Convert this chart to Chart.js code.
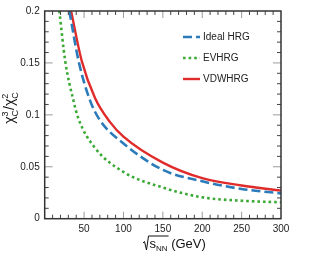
<!DOCTYPE html>
<html>
<head>
<meta charset="utf-8">
<script src="https://cdn.jsdelivr.net/npm/chart.js@4.4.0/dist/chart.umd.min.js"></script>
<style>
  html, body { margin: 0; padding: 0; background: #fff; }
  #wrap { width: 319px; height: 257px; }
</style>
</head>
<body>
<div id="wrap"><canvas id="grafico" width="319" height="257"></canvas></div>
<script>
// valores
const idealX = [31.3, 43, 57, 70, 100, 150, 200, 250, 300];
const idealY = [0.2, 0.152, 0.115, 0.095, 0.0725, 0.047, 0.036, 0.0286, 0.0244];
const evX = [18.6, 26, 36.4, 43, 63, 100, 150, 200, 250, 300];
const evY = [0.2, 0.152, 0.114, 0.096, 0.069, 0.045, 0.030, 0.0206, 0.0173, 0.0158];
const vdwX = [33.5, 47, 64, 83, 100, 150, 200, 250, 300];
const vdwY = [0.2, 0.152, 0.116, 0.093, 0.079, 0.054, 0.039, 0.032, 0.027];

const xTicks = [50, 100, 150, 200, 250, 300];
const yTicks = [0, 0.05, 0.1, 0.15, 0.2];
const nomes = ['Ideal HRG', 'EVHRG', 'VDWHRG'];

const FONTE = '"Liberation Sans", Arial, sans-serif';

function pontos(xs, ys) {
  return xs.map((v, i) => ({ x: v, y: ys[i] }));
}

// moldura, marcas internas, legenda e titulos dos eixos
const molduraPlugin = {
  id: 'moldura',
  afterDraw(chart) {
    const ctx = chart.ctx;
    const a = chart.chartArea;
    const sx = chart.scales.x;
    const sy = chart.scales.y;
    ctx.save();

    // marcas do eixo x (embaixo e em cima)
    for (let v = 10; v < 300; v += 10) {
      const px = sx.getPixelForValue(v);
      const maior = v % 50 === 0;
      const len = maior ? 7 : 4;
      ctx.strokeStyle = maior ? '#9a9a9a' : '#444';
      ctx.lineWidth = 1;
      ctx.beginPath();
      ctx.moveTo(px, a.bottom); ctx.lineTo(px, a.bottom - len);
      ctx.moveTo(px, a.top); ctx.lineTo(px, a.top + len);
      ctx.stroke();
    }
    // marcas do eixo y (esquerda e direita)
    for (let i = 1; i < 20; i++) {
      const v = i / 100;
      const py = sy.getPixelForValue(v);
      const maior = i % 5 === 0;
      const len = maior ? 8 : 4;
      ctx.strokeStyle = maior ? '#9a9a9a' : '#444';
      ctx.lineWidth = 1;
      ctx.beginPath();
      ctx.moveTo(a.left, py); ctx.lineTo(a.left + len, py);
      ctx.moveTo(a.right, py); ctx.lineTo(a.right - len, py);
      ctx.stroke();
    }

    ctx.strokeStyle = '#333';
    ctx.lineWidth = 1.5;
    ctx.strokeRect(a.left, a.top, a.right - a.left, a.bottom - a.top);

    // legenda
    const lx = 183, ly = [37, 58, 79];
    chart.data.datasets.forEach((ds, i) => {
      ctx.strokeStyle = ds.borderColor;
      ctx.lineWidth = ds.borderWidth;
      ctx.setLineDash(ds.borderDash || []);
      ctx.beginPath();
      ctx.moveTo(lx, ly[i]); ctx.lineTo(lx + 17, ly[i]);
      ctx.stroke();
      ctx.setLineDash([]);
      ctx.fillStyle = '#222';
      ctx.font = '10px ' + FONTE;
      ctx.textBaseline = 'middle';
      ctx.textAlign = 'left';
      ctx.fillText(ds.label, lx + 20, ly[i]);
    });

    // titulo do eixo x: raiz de s_NN (GeV)
    ctx.fillStyle = '#111';
    ctx.strokeStyle = '#111';
    ctx.textBaseline = 'alphabetic';
    const x0 = 143;
    const base = 248;
    ctx.lineWidth = 1;
    ctx.beginPath();
    ctx.moveTo(x0, base - 5);
    ctx.lineTo(x0 + 1.5, base - 6.5);
    ctx.lineTo(x0 + 3.5, base + 2);
    ctx.lineTo(x0 + 5.5, base - 12);
    let xt = x0 + 6.5;
    ctx.font = '13px ' + FONTE;
    ctx.fillText('s', xt, base);
    xt += ctx.measureText('s').width;
    ctx.font = '8px ' + FONTE;
    ctx.fillText('NN', xt, base + 3);
    xt += ctx.measureText('NN').width;
    ctx.lineTo(xt + 1, base - 12);
    ctx.stroke();
    ctx.font = '13px ' + FONTE;
    ctx.fillText(' (GeV)', xt, base);

    // titulo do eixo y
    ctx.translate(14, 108);
    ctx.rotate(-Math.PI / 2);
    const partes = [['\u03c7', '3', 'C'], ['/', '', ''], ['\u03c7', '2', 'C']];
    let larg = 0;
    const medidas = partes.map(p => {
      ctx.font = '14px ' + FONTE;
      const w1 = ctx.measureText(p[0]).width;
      ctx.font = '9px ' + FONTE;
      const w2 = Math.max(ctx.measureText(p[1]).width, ctx.measureText(p[2]).width);
      larg += w1 + w2;
      return [w1, w2];
    });
    let px = -larg / 2;
    partes.forEach((p, i) => {
      ctx.font = '14px ' + FONTE;
      ctx.fillText(p[0], px, 0);
      px += medidas[i][0];
      ctx.font = '9px ' + FONTE;
      if (p[1]) ctx.fillText(p[1], px, -6);
      if (p[2]) ctx.fillText(p[2], px, 4);
      px += medidas[i][1];
    });
    ctx.restore();
  }
};

const ctx = document.getElementById('grafico').getContext('2d');

new Chart(ctx, {
  type: 'scatter',
  data: {
    datasets: [
      {
        label: nomes[0],
        data: pontos(idealX, idealY),
        showLine: true,
        borderColor: '#2b7bba',
        borderWidth: 2.6,
        borderDash: [9, 4],
        pointRadius: 0,
        cubicInterpolationMode: 'monotone'
      },
      {
        label: nomes[1],
        data: pontos(evX, evY),
        showLine: true,
        borderColor: '#3aaa35',
        borderWidth: 2.6,
        borderDash: [2.6, 3],
        pointRadius: 0,
        cubicInterpolationMode: 'monotone'
      },
      {
        label: nomes[2],
        data: pontos(vdwX, vdwY),
        showLine: true,
        borderColor: '#e02b2b',
        borderWidth: 2.4,
        pointRadius: 0,
        cubicInterpolationMode: 'monotone'
      }
    ]
  },
  options: {
    responsive: false,
    animation: false,
    layout: { padding: { left: 0, right: 38, top: 11, bottom: 0 } },
    plugins: {
      legend: { display: false },
      tooltip: { enabled: false }
    },
    scales: {
      x: {
        type: 'linear',
        min: 0,
        max: 300,
        grid: { display: false, drawTicks: false, tickLength: 0 },
        border: { display: false },
        afterBuildTicks: s => { s.ticks = xTicks.map(v => ({ value: v })); },
        afterFit: s => { s.height = 38.3; },
        ticks: {
          color: '#222',
          font: { size: 10, family: FONTE },
          padding: 5,
          maxRotation: 0,
          callback: v => String(v)
        }
      },
      y: {
        min: 0,
        max: 0.2,
        grid: { display: false, drawTicks: false, tickLength: 0 },
        border: { display: false },
        afterBuildTicks: s => { s.ticks = yTicks.map(v => ({ value: v })); },
        afterFit: s => { s.width = 44.7; },
        ticks: {
          color: '#222',
          font: { size: 10, family: FONTE },
          padding: 5,
          callback: v => String(+v.toFixed(2))
        }
      }
    }
  },
  plugins: [molduraPlugin]
});
</script>
</body>
</html>
